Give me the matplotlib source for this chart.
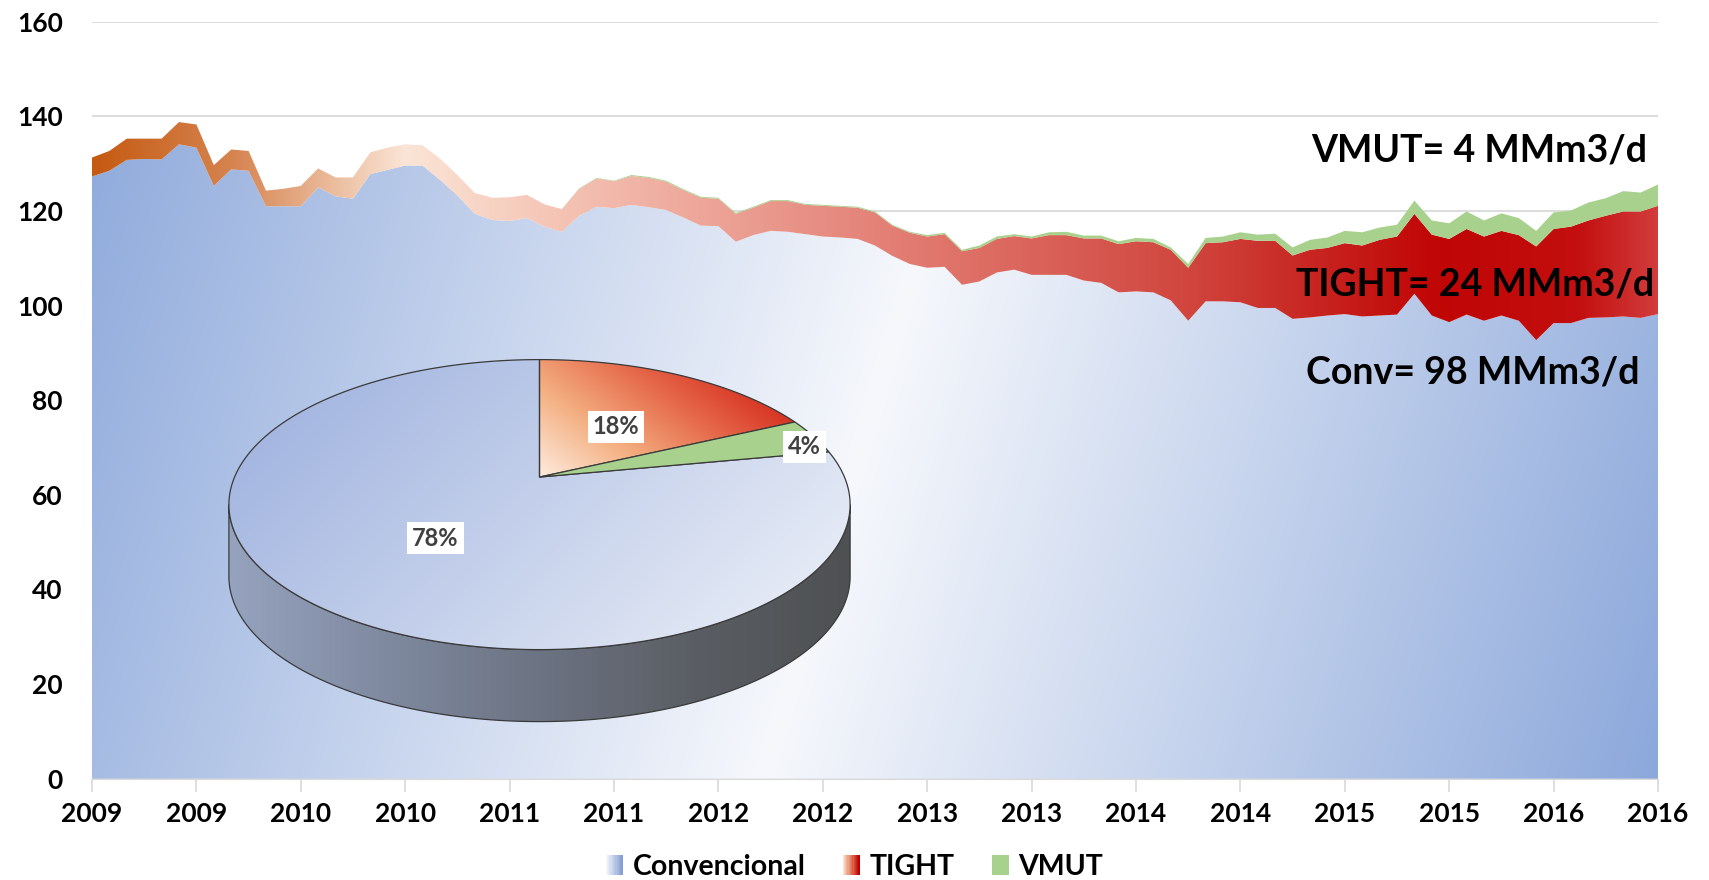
import numpy as np
import matplotlib.pyplot as plt
from matplotlib.patches import Polygon, Rectangle
from matplotlib.legend_handler import HandlerBase

plt.rcParams['font.family'] = ['Lato', 'DejaVu Sans']
plt.rcParams['font.weight'] = 'bold'

# monthly production, Jan 2009 .. Jul 2016 (MMm3/d)
conv = [127.3, 128.5, 130.8, 131.0, 130.9, 134.1, 133.4, 125.3, 128.8, 128.5,
        121.0, 121.0, 121.0, 125.0, 123.1, 122.6, 127.8, 128.7, 129.6, 129.6,
        126.6, 123.3, 119.4, 118.1, 117.9, 118.5, 116.7, 115.6, 119.0, 120.9,
        120.6, 121.3, 120.8, 120.2, 118.6, 116.9, 116.8, 113.5, 114.9, 115.8,
        115.6, 115.1, 114.6, 114.4, 114.1, 112.7, 110.5, 108.8, 108.0, 108.2,
        104.4, 105.1, 107.0, 107.6, 106.5, 106.5, 106.5, 105.3, 104.8, 102.8,
        103.0, 102.8, 101.1, 96.8, 100.9, 100.9, 100.7, 99.5, 99.5, 97.2,
        97.5, 97.9, 98.2, 97.7, 97.9, 98.1, 102.5, 97.9, 96.5, 98.1,
        96.8, 97.9, 96.8, 92.7, 96.3, 96.3, 97.4, 97.5, 97.7, 97.4,
        98.2]
tight = [4.0, 4.2, 4.5, 4.3, 4.4, 4.7, 4.9, 4.4, 4.2, 4.2,
         3.3, 3.7, 4.3, 4.0, 4.0, 4.5, 4.6, 4.7, 4.5, 4.3,
         4.5, 4.3, 4.4, 4.7, 5.0, 4.9, 4.7, 4.8, 5.7, 6.0,
         5.7, 6.1, 6.2, 6.0, 5.8, 5.9, 5.8, 5.9, 5.8, 6.3,
         6.5, 6.2, 6.5, 6.5, 6.6, 7.0, 6.4, 6.6, 6.6, 6.9,
         7.1, 7.1, 7.1, 7.1, 7.7, 8.4, 8.4, 8.9, 9.4, 10.2,
         10.6, 10.6, 10.7, 11.2, 12.3, 12.5, 13.4, 14.2, 14.2, 13.4,
         14.3, 14.3, 15.0, 15.0, 16.0, 16.5, 16.9, 17.1, 17.6, 18.1,
         17.8, 17.9, 18.1, 19.8, 19.9, 20.4, 20.6, 21.5, 22.2, 22.5,
         22.9]
vmut = [0.0, 0.0, 0.0, 0.0, 0.0, 0.0, 0.0, 0.0, 0.0, 0.0,
        0.0, 0.0, 0.0, 0.0, 0.0, 0.0, 0.0, 0.0, 0.0, 0.0,
        0.0, 0.0, 0.0, 0.0, 0.0, 0.0, 0.0, 0.0, 0.1, 0.1,
        0.1, 0.2, 0.2, 0.2, 0.2, 0.2, 0.2, 0.2, 0.2, 0.2,
        0.2, 0.2, 0.2, 0.2, 0.2, 0.2, 0.2, 0.2, 0.3, 0.3,
        0.3, 0.5, 0.5, 0.4, 0.4, 0.6, 0.7, 0.6, 0.6, 0.6,
        0.7, 0.7, 0.5, 0.8, 1.1, 1.2, 1.4, 1.3, 1.5, 1.7,
        2.1, 2.2, 2.6, 2.8, 2.6, 2.5, 2.8, 3.0, 3.3, 3.7,
        3.4, 3.7, 3.6, 3.3, 3.5, 3.4, 3.8, 3.7, 4.3, 4.0,
        4.5]
months = np.arange(len(conv))
tick_months = list(range(0, 91, 6))
tick_labels = [str(2009 + m // 12) for m in tick_months]

series_names = ['Convencional', 'TIGHT', 'VMUT']
pie_share = [78, 18, 4]
notes = ['VMUT= 4 MMm3/d', 'TIGHT= 24 MMm3/d', 'Conv= 98 MMm3/d']


def ramp(stops, t):
    t = np.clip(t, 0, 1)
    pos = [p for p, _ in stops]
    chans = [np.interp(t, pos, [c[i] for _, c in stops]) for i in range(3)]
    return np.stack(chans, axis=-1) / 255.0


conv = np.array(conv)
tight_top = conv + np.array(tight)
total = tight_top + np.array(vmut)

W, H = 1709, 880
fig = plt.figure(figsize=(W / 100, H / 100), dpi=100)
ax = fig.add_axes([92 / W, 101.4 / H, 1566 / W, 756.8 / H])

# conventional area: diagonal blue-white-blue gradient
gx, gy = np.meshgrid(np.linspace(0, 1566, 600), np.linspace(0, 757, 300))
th = np.radians(16.5)
tt = gx * np.cos(th) + gy * np.sin(th)
half = (1566 * np.cos(th) + 757 * np.sin(th)) / 2
conv_img = ramp([(0, (246, 248, 252)), (1, (140, 168, 219))], np.abs(tt - half) / half)
p_conv = ax.fill_between(months, 0, conv, facecolor='none', edgecolor='none')
im = ax.imshow(conv_img, extent=(0, 90, 0, 160), origin='upper', aspect='auto',
               interpolation='bilinear', zorder=2)
im.set_clip_path(p_conv.get_paths()[0], ax.transData)

# tight area: orange -> peach -> red
tight_stops = [(0, (197, 90, 17)), (0.09, (214, 132, 80)), (0.2, (251, 229, 214)),
               (0.3, (244, 195, 180)), (0.5, (228, 130, 120)), (0.7, (208, 70, 62)),
               (0.86, (192, 5, 5)), (0.95, (195, 15, 15)), (1, (210, 60, 60))]
tight_img = ramp(tight_stops, np.tile(np.linspace(0, 1, 900), (4, 1)))
p_tight = ax.fill_between(months, conv, tight_top, facecolor='none', edgecolor='none')
im2 = ax.imshow(tight_img, extent=(0, 90, 0, 160), origin='upper', aspect='auto',
                interpolation='bilinear', zorder=2)
im2.set_clip_path(p_tight.get_paths()[0], ax.transData)

ax.fill_between(months, tight_top, total, facecolor='#a9d18e', edgecolor='none',
                lw=0, zorder=2)

ax.set_xlim(0, 90)
ax.set_ylim(0, 160)
ax.set_yticks(range(0, 161, 20))
ax.yaxis.grid(True, color='#d9d9d9', lw=1.3)
ax.set_axisbelow(True)
ax.set_xticks(tick_months, tick_labels)
for s in ['top', 'right', 'left']:
    ax.spines[s].set_visible(False)
ax.spines['bottom'].set_color('#d9d9d9')
ax.tick_params(axis='y', length=0, pad=21, labelsize=19)
ax.tick_params(axis='x', length=9, color='#d9d9d9', width=1.2, pad=8, labelsize=19)

fig.text(1647 / W, 1 - 150 / H, notes[0], ha='right', va='center', fontsize=27)
fig.text(1654 / W, 1 - 284 / H, notes[1], ha='right', va='center', fontsize=27)
fig.text(1639 / W, 1 - 373 / H, notes[2], ha='right', va='center', fontsize=27)

# 3D pie inset, drawn in pixel coordinates
pax = fig.add_axes([0, 0, 1, 1], zorder=5)
pax.set_xlim(0, W)
pax.set_ylim(H, 0)
pax.axis('off')
pax.patch.set_alpha(0)

cx, cy, a, b, depth, k = 539.5, 504.6, 310.6, 145.0, 72.0, 0.19
ph = np.linspace(0, 2 * np.pi, 1441)
xmax = np.abs(np.cos(ph) / (1 + k * np.sin(ph))).max()
yc, yh = -k / (1 - k * k), 1 / (1 - k * k)


def rim(phi):
    u, v = np.cos(phi), np.sin(phi)
    X, Y = u / (1 + k * v), v / (1 + k * v)
    return cx + a * X / xmax, cy - b * (Y - yc) / yh


apex = (cx, cy - b * k)
edge = '#3a3a3a'

# side face
t = np.linspace(np.pi, 2 * np.pi, 200)
sx, sy = cx + a * np.cos(t), cy - b * np.sin(t)
side_pts = np.column_stack([np.r_[sx, sx[::-1]], np.r_[sy, sy[::-1] + depth]])
side = Polygon(side_pts, closed=True, facecolor='none', edgecolor=edge, lw=0.9, zorder=3)
pax.add_patch(side)
ext = (cx - a, cx + a, cy + b + depth, cy - b)
# px: 0 left -> 1 right, py: 0 top -> 1 bottom (origin='upper')
px, py = np.meshgrid(np.linspace(0, 1, 400), np.linspace(0, 1, 200))
side_img = ramp([(0, (150, 163, 190)), (0.25, (127, 138, 160)), (0.5, (108, 115, 130)),
                 (0.75, (90, 94, 100)), (1, (78, 80, 82))], px)
ims = pax.imshow(side_img, extent=ext, origin='upper', aspect='auto', zorder=2)
ims.set_clip_path(side)

# top face wedges: TIGHT, VMUT, then Convencional clockwise from 12 o'clock
order = [1, 2, 0]
start = np.pi / 2
wedges = {}
for i in order:
    span = pie_share[i] / sum(pie_share) * 2 * np.pi
    phi = np.linspace(start, start - span, 300)
    rx, ry = rim(phi)
    pts = np.column_stack([np.r_[apex[0], rx], np.r_[apex[1], ry]])
    wedges[i] = (Polygon(pts, closed=True, facecolor='none', edgecolor=edge, lw=0.9,
                         zorder=4), rx, ry)
    start -= span

w_conv = wedges[0][0]
pax.add_patch(w_conv)
conv_top = ramp([(0, (155, 175, 222)), (1, (237, 241, 248))], 0.7 * px + 0.3 * py * 1.3)
imc = pax.imshow(conv_top, extent=ext, origin='upper', aspect='auto', zorder=3)
imc.set_clip_path(w_conv)

w_tight, rx, ry = wedges[1]
pax.add_patch(w_tight)
xs_pix = ext[0] + px * (ext[1] - ext[0])
ys_pix = ext[3] + py * (ext[2] - ext[3])
gx2 = (xs_pix - apex[0]) / (rx.max() - apex[0])
gy2 = (apex[1] - ys_pix) / (apex[1] - (cy - b))
tt2 = 0.75 * gx2 + 0.45 * np.clip(gy2, 0, 1)
tight_pie = ramp([(0, (253, 236, 224)), (0.35, (244, 176, 130)), (0.7, (229, 102, 72)),
                  (1, (214, 45, 30))], tt2)
imt = pax.imshow(tight_pie, extent=ext, origin='upper', aspect='auto', zorder=3)
imt.set_clip_path(w_tight)

w_vmut = wedges[2][0]
w_vmut.set_facecolor('#a9d18e')
pax.add_patch(w_vmut)

lab_pos = {0: (435.5, 538), 1: (616, 427), 2: (804.5, 447)}
for i, (lx, ly) in lab_pos.items():
    pax.text(lx, ly, f'{pie_share[i]}%', ha='center', va='center', fontsize=17,
             color='#404040', zorder=6,
             bbox=dict(facecolor='white', edgecolor='none', pad=3.5))


# legend with gradient swatches
class GradHandler(HandlerBase):
    def __init__(self, stops):
        super().__init__()
        self.stops = stops

    def create_artists(self, legend, orig_handle, xdescent, ydescent, width, height,
                       fontsize, trans):
        n = 14
        cols = ramp(self.stops, np.linspace(0, 1, n))
        return [Rectangle((-xdescent + j * width / n, -ydescent), width / n + 0.3, height,
                          facecolor=cols[j], edgecolor='none', transform=trans)
                for j in range(n)]


handles = [Rectangle((0, 0), 1, 1) for _ in series_names]
hmap = {
    handles[0]: GradHandler([(0, (245, 247, 252)), (1, (135, 160, 212))]),
    handles[1]: GradHandler([(0, (250, 228, 205)), (0.5, (228, 120, 90)), (1, (192, 0, 0))]),
    handles[2]: GradHandler([(0, (169, 209, 142)), (1, (169, 209, 142))]),
}
fig.legend(handles, series_names, handler_map=hmap, loc='center',
           bbox_to_anchor=(0.5, 1 - 867 / H), ncol=3, frameon=False, fontsize=20.5,
           handlelength=0.6, handleheight=0.7, handletextpad=0.35, columnspacing=1.3)

fig.savefig('out.png', dpi=100)
